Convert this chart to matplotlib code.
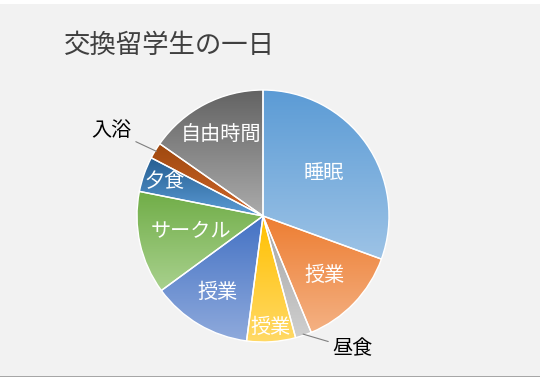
import numpy as np
import matplotlib.pyplot as plt
from matplotlib.colors import LinearSegmentedColormap
from matplotlib.patches import Rectangle

plt.rcParams['font.family'] = ['Noto Sans CJK JP', 'DejaVu Sans']

# one day of an exchange student, minutes (clockwise from 12 o'clock)
labels = ['睡眠', '授業', '昼食', '授業', '授業', 'サークル', '夕食', '入浴', '自由時間']
minutes = [440, 190, 30, 90, 185, 190, 65, 30, 220]
top_colors = ['#5B9BD5', '#ED7D31', '#A5A5A5', '#FFC000', '#4472C4',
              '#70AD47', '#255E91', '#9E480E', '#636363']
bottom_colors = ['#9DC3E6', '#F4B183', '#CFCFCF', '#FFD966', '#8FAADC',
                 '#A9D18E', '#5B9BD5', '#D0662A', '#ABABAB']

# label placement: radius as a fraction of the pie, None = outside with leader
label_r = [0.59, 0.68, None, 0.89, 0.71, 0.59, 0.83, None, 0.73]
outside = {2: (146, 1.27), 7: (299.5, 1.38)}  # angle from top (clockwise), radius

fig = plt.figure(figsize=(5.4, 3.81), dpi=100)
fig.patch.set_facecolor('#F2F2F2')
fig.patches.append(Rectangle((0, 1 - 4 / 381), 1, 4 / 381, transform=fig.transFigure,
                             facecolor='white', edgecolor='none'))
fig.patches.append(Rectangle((0, 0), 1, 4 / 381, transform=fig.transFigure,
                             facecolor='white', edgecolor='none'))
fig.patches.append(Rectangle((0, 4 / 381), 1, 1.5 / 381, transform=fig.transFigure,
                             facecolor='#A6A6A6', edgecolor='none'))

ax = fig.add_axes([137 / 540, 39 / 381, 252 / 540, 252 / 381])
ax.set_facecolor('none')

wedges, _ = ax.pie(minutes, startangle=90, counterclock=False, radius=1,
                   wedgeprops=dict(edgecolor='white', linewidth=1))

grad = np.linspace(0, 1, 256).reshape(-1, 1)
for w, c0, c1 in zip(wedges, top_colors, bottom_colors):
    verts = w.get_patch_transform().transform(w.get_path().vertices)
    x0, y0 = verts.min(axis=0)
    x1, y1 = verts.max(axis=0)
    cmap = LinearSegmentedColormap.from_list('g', [c1, c0])
    im = ax.imshow(grad, extent=(x0, x1, y0, y1), origin='lower', cmap=cmap,
                   aspect='auto', zorder=0.5, interpolation='bilinear')
    im.set_clip_path(w)
    w.set_facecolor('none')

total = sum(minutes)
start = 0.0
for i, (lab, m) in enumerate(zip(labels, minutes)):
    mid = start + m / total * 360 / 2
    start += m / total * 360
    if label_r[i] is not None:
        a = np.deg2rad(90 - mid)
        ax.text(label_r[i] * np.cos(a), label_r[i] * np.sin(a), lab, color='white',
                fontsize=14.5, ha='center', va='center', zorder=3)
    else:
        ang, rr = outside[i]
        a = np.deg2rad(90 - mid)
        b = np.deg2rad(90 - ang)
        tx, ty = rr * np.cos(b), rr * np.sin(b)
        ax.annotate(lab, xy=(0.99 * np.cos(a), 0.99 * np.sin(a)), xytext=(tx, ty),
                    fontsize=14.5, color='black', ha='center', va='center',
                    arrowprops=dict(arrowstyle='-', color='#7F7F7F', lw=0.8,
                                    shrinkA=1, shrinkB=0), zorder=3)

ax.set_xlim(-1, 1)
ax.set_ylim(-1, 1)
ax.set_aspect('equal')
ax.axis('off')

fig.text(64 / 540, 1 - 45 / 381, '交換留学生の一日', fontsize=19, color='#404040',
         ha='left', va='center')

fig.savefig('out.png', dpi=100, facecolor=fig.get_facecolor())
